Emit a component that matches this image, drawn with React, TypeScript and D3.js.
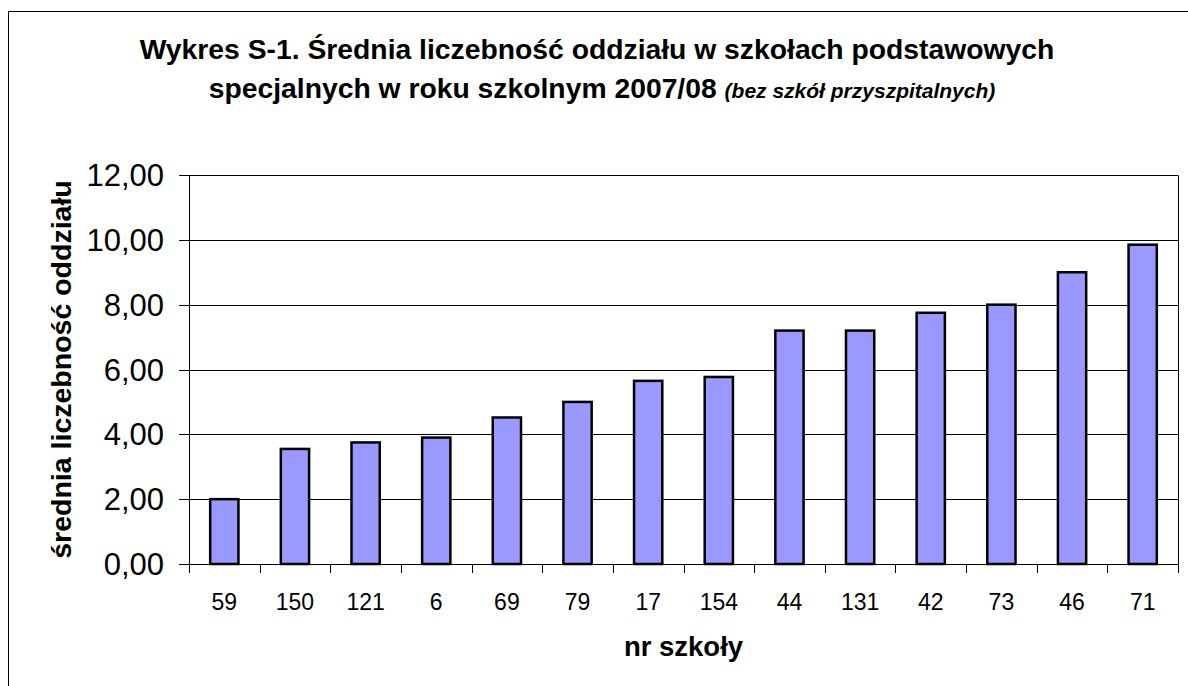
import React, { useEffect, useRef } from 'react';
import * as d3 from 'd3';

const schools = ['59', '150', '121', '6', '69', '79', '17', '154', '44', '131', '42', '73', '46', '71'];
const avgClassSize = [2.0, 3.55, 3.75, 3.9, 4.52, 5.0, 5.65, 5.77, 7.2, 7.2, 7.75, 8.0, 9.0, 9.85];
const yTicks = [0, 2, 4, 6, 8, 10, 12];

const W = 1188, H = 686;
const plot = { left: 189, right: 1178, top: 175, bottom: 564 };
const FONT = 'Arial, "Liberation Sans", Helvetica, sans-serif';

const App = () => {
    const el = useRef<SVGGElement>(null);

    useEffect(() => {
        const g = d3.select(el.current);
        g.selectAll('*').remove();

        let x = d3.scaleBand().domain(schools).range([plot.left, plot.right]).padding(0),
            y = d3.scaleLinear().domain([0, 12]).range([plot.bottom, plot.top]),
            barW = x.bandwidth() * 0.4;

        // outer frame (cut by the page edge on right and bottom)
        g.append('path')
            .attr('d', `M 8.5 ${H + 5} L 8.5 11.5 L ${W + 5} 11.5`)
            .attr('fill', 'none')
            .attr('stroke', '#000')
            .attr('stroke-width', 1);

        // gridlines
        g.append('g')
            .selectAll('line')
            .data(yTicks)
            .enter().append('line')
            .attr('x1', plot.left - 10)
            .attr('x2', plot.right)
            .attr('y1', d => Math.round(y(d)) + 0.5)
            .attr('y2', d => Math.round(y(d)) + 0.5)
            .attr('stroke', '#000')
            .attr('stroke-width', 1);

        // plot border right + left axis
        g.append('line')
            .attr('x1', plot.right + 0.5).attr('x2', plot.right + 0.5)
            .attr('y1', Math.round(y(12)) + 0.5).attr('y2', Math.round(y(0)) + 0.5)
            .attr('stroke', '#000');
        g.append('line')
            .attr('x1', plot.left + 0.5).attr('x2', plot.left + 0.5)
            .attr('y1', Math.round(y(12)) + 0.5).attr('y2', Math.round(y(0)) + 0.5)
            .attr('stroke', '#000');

        // y tick labels
        g.append('g')
            .selectAll('text')
            .data(yTicks)
            .enter().append('text')
            .attr('x', 164)
            .attr('y', d => y(d))
            .attr('dy', '0.36em')
            .attr('text-anchor', 'end')
            .style('font-family', FONT)
            .style('font-size', '31px')
            .attr('fill', '#000')
            .text(d => d3.format('.2f')(d).replace('.', ','));

        // x ticks at category boundaries
        let bounds = schools.map(s => x(s) as number).concat([plot.right]);
        g.append('g')
            .selectAll('line')
            .data(bounds)
            .enter().append('line')
            .attr('x1', d => Math.round(d) + 0.5)
            .attr('x2', d => Math.round(d) + 0.5)
            .attr('y1', Math.round(y(0)) + 0.5)
            .attr('y2', Math.round(y(0)) + 9)
            .attr('stroke', '#000');

        // bars
        g.append('g')
            .selectAll('rect')
            .data(avgClassSize)
            .enter().append('rect')
            .attr('x', (d, i) => (x(schools[i]) as number) + (x.bandwidth() - barW) / 2)
            .attr('y', d => y(d))
            .attr('width', barW)
            .attr('height', d => y(0) - y(d))
            .attr('fill', '#9999FF')
            .attr('stroke', '#000')
            .attr('stroke-width', 2.5);

        // x tick labels
        g.append('g')
            .selectAll('text')
            .data(schools)
            .enter().append('text')
            .attr('x', d => (x(d) as number) + x.bandwidth() / 2)
            .attr('y', 610)
            .attr('text-anchor', 'middle')
            .style('font-family', FONT)
            .style('font-size', '23px')
            .attr('fill', '#000')
            .text(d => d);

        // axis titles
        g.append('text')
            .attr('x', (plot.left + plot.right) / 2)
            .attr('y', 656)
            .attr('text-anchor', 'middle')
            .style('font-family', FONT)
            .style('font-size', '27.5px')
            .style('font-weight', 'bold')
            .text('nr szkoły');

        g.append('text')
            .attr('transform', `translate(71, ${(plot.top + plot.bottom) / 2}) rotate(-90)`)
            .attr('text-anchor', 'middle')
            .style('font-family', FONT)
            .style('font-size', '28.5px')
            .style('font-weight', 'bold')
            .text('średnia liczebność oddziału');

        // title
        let title = g.append('text')
            .attr('text-anchor', 'middle')
            .style('font-family', FONT)
            .style('font-weight', 'bold')
            .style('font-size', '28.3px');
        title.append('tspan')
            .attr('x', 597).attr('y', 59)
            .text('Wykres S-1. Średnia liczebność oddziału w szkołach podstawowych');
        title.append('tspan')
            .attr('x', 602).attr('y', 98)
            .text('specjalnych w roku szkolnym 2007/08 ');
        title.append('tspan')
            .style('font-size', '21px')
            .style('font-style', 'italic')
            .text('(bez szkół przyszpitalnych)');
    }, []);

    return <svg width={W} height={H} style={{ position: 'absolute', left: 0, top: 0, background: '#fff' }}>
        <g ref={el}></g>
    </svg>;
};

export default App;
